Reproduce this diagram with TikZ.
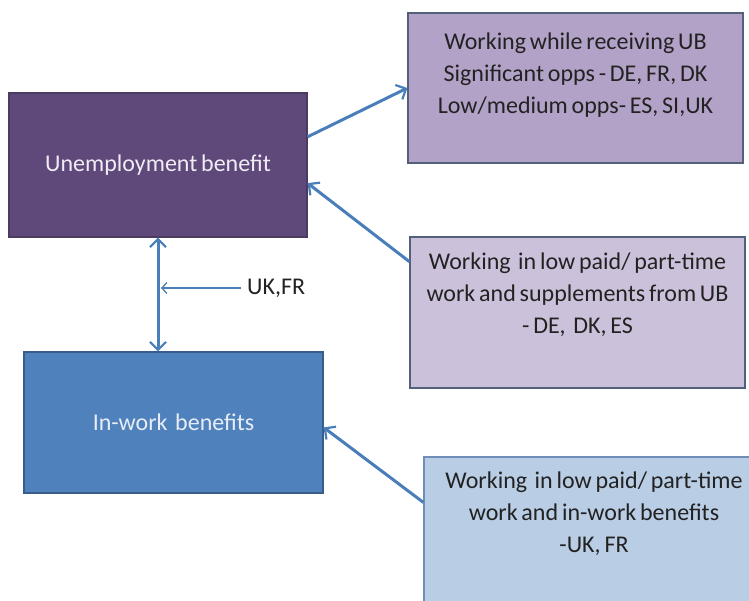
\documentclass[tikz,border=0pt]{standalone}
\usepackage{fontspec}
\setmainfont{Carlito}[WordSpace=0.7]
\usetikzlibrary{arrows.meta,calc}
\definecolor{ubfill}{HTML}{5F497A}
\definecolor{ubline}{HTML}{4A3B60}
\definecolor{ubtext}{HTML}{F0ECF5}
\definecolor{tbfill}{HTML}{B3A2C7}
\definecolor{mbfill}{HTML}{CCC1DA}
\definecolor{pline}{HTML}{52607A}
\definecolor{iwfill}{HTML}{4F81BD}
\definecolor{iwline}{HTML}{385D8A}
\definecolor{iwtext}{HTML}{E8ECF5}
\definecolor{bbfill}{HTML}{B9CDE5}
\definecolor{bbline}{HTML}{6F8DB5}
\definecolor{arrowc}{HTML}{4A7EBB}
\definecolor{txt}{HTML}{222222}
\begin{document}
\begin{tikzpicture}[x=1pt,y=-1pt,
  box/.style={rectangle, line width=1.2pt, inner sep=0pt},
  boxtext/.style={font=\fontsize{24}{32}\selectfont, align=center, inner sep=0pt, text=txt},
  bigarrow/.style={line width=3pt, draw=arrowc, -{Straight Barb[length=8pt,width=16pt,line width=2.2pt]}},
  thinarrow/.style={line width=1.5pt, draw=arrowc, -{Straight Barb[length=5pt,width=11pt,line width=1.3pt]}}
]
\useasboundingbox (0,0) rectangle (749,601);
\begin{scope}
\clip (0,0) rectangle (749,601);
% main boxes
\node[box, fill=ubfill, draw=ubline, minimum width=298pt, minimum height=144pt,
      text=ubtext, font=\fontsize{24}{32}\selectfont] (ub) at (158,165) {Unemployment benefit};
\node[box, fill=iwfill, draw=iwline, minimum width=299pt, minimum height=141pt,
      text=iwtext, font=\fontsize{24}{32}\selectfont] (iw) at (173.5,422.5) {In-work\ \ benefits};
% right boxes
\node[box, fill=tbfill, draw=pline, minimum width=335pt, minimum height=150pt] (tb) at (575.5,88) {};
\node[boxtext, anchor=north] (tbt) at ([yshift=-20pt]tb.north)
  {Working while receiving UB\\Significant opps - DE, FR, DK\\Low/medium opps- ES, SI,UK};
\node[box, fill=mbfill, draw=pline, minimum width=335pt, minimum height=151pt] (mb) at (577.5,312.5) {};
\node[boxtext, anchor=north] (mbt) at ([yshift=-16pt]mb.north)
  {Working\ \ in low paid/ part-time\\work and supplements from UB\\- DE,\ \ DK, ES};
\node[box, fill=bbfill, draw=bbline, minimum width=340pt, minimum height=170pt] (bb) at (594,542) {};
\node[boxtext, anchor=north] (bbt) at ([yshift=-15pt]bb.north)
  {Working\ \ in low paid/ part-time\\work and in-work benefits\\-UK, FR};
\end{scope}
% connectors
\coordinate (a1s) at ($(ub.north east)!0.306!(ub.south east)$);
\coordinate (a2e) at ($(ub.north east)!0.625!(ub.south east)$);
\coordinate (a2s) at ($(mb.north west)!0.166!(mb.south west)$);
\coordinate (a3s) at ([yshift=-46pt]bb.north west);
\coordinate (a3e) at ([yshift=-76pt]iw.north east);
\draw[bigarrow] (a1s) -- (tb.west);
\draw[bigarrow] (a2s) -- (a2e);
\draw[bigarrow] (a3s) -- (a3e);
\draw[line width=3pt, draw=arrowc, {Straight Barb[length=8pt,width=16pt,line width=2.2pt]}-{Straight Barb[length=8pt,width=16pt,line width=2.2pt]}]
  (ub.south) -- (ub.south |- iw.north);
\node[font=\fontsize{24}{32}\selectfont, text=txt, inner sep=0pt, anchor=west] (uk) at (247,288) {UK,FR};
\draw[thinarrow] ([xshift=-6pt]uk.west) -- ([xshift=3pt]uk.west -| ub.south);
\end{tikzpicture}
\end{document}
